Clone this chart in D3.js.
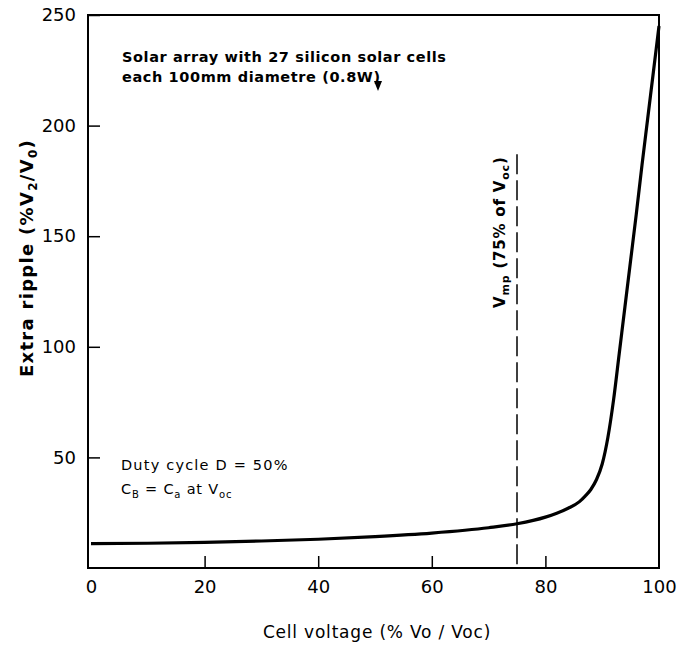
<!DOCTYPE html>
<html lang="en">
<head>
	<meta charset="utf-8">
	<title>Extra ripple vs cell voltage</title>
	<script src="https://cdn.jsdelivr.net/npm/d3@7/dist/d3.min.js"></script>
	<style>
		body { margin: 0; background: #fff; }
		svg { font-family: "DejaVu Sans", sans-serif; }
	</style>
</head>
<body>
<script>
	// Data
	var voltage = [0, 10, 20, 30, 40, 50, 60, 70, 75, 80, 82, 84, 86, 87, 88, 89, 90, 91, 92, 93, 94, 95, 96, 97, 98, 99, 100];
	var ripple  = [11, 11.2, 11.6, 12.2, 13, 14.2, 15.8, 18.2, 20, 23, 24.8, 27, 30, 32.5, 35.5, 40, 47, 59, 76, 97, 118, 139, 160, 182, 203, 224, 245];
	var xTicks = [0, 20, 40, 60, 80, 100];
	var yTicks = [50, 100, 150, 200, 250];
	var vmp = 75;

	// Margins and size
	var margin = {top: 15, right: 33, bottom: 79, left: 91};
	var outer_width = 692;
	var outer_height = 647;
	var width = outer_width - margin.left - margin.right;
	var height = outer_height - margin.top - margin.bottom;

	var svg = d3.select("body")
				.append("svg")
				.attr("width", outer_width)
				.attr("height", outer_height);

	var g = svg.append("g")
			   .attr("transform", "translate(" + margin.left + "," + margin.top + ")");

	var xScale = d3.scaleLinear().domain([0, 100]).range([0, width]);
	var yScale = d3.scaleLinear().domain([0, 250]).range([height, 0]);

	// Frame
	g.append("rect")
	 .attr("x", xScale(0) - 3)
	 .attr("y", yScale(250))
	 .attr("width", xScale(100) - xScale(0) + 3)
	 .attr("height", yScale(0) - yScale(250))
	 .attr("fill", "none")
	 .attr("stroke", "#000")
	 .attr("stroke-width", 2);

	// X axis, ticks pointing inward
	var xAxis = d3.axisBottom(xScale)
				  .tickValues(xTicks)
				  .tickSizeInner(-12)
				  .tickSizeOuter(0)
				  .tickPadding(24);
	var gx = g.append("g")
			  .attr("transform", "translate(0," + height + ")")
			  .call(xAxis);
	gx.select(".domain").remove();
	gx.selectAll(".tick line")
	  .attr("stroke-width", 1.5)
	  .attr("display", function(d) { return (d === 0 || d === 100) ? "none" : null; });
	gx.selectAll(".tick text")
	  .attr("y", 12)
	  .attr("font-size", 18)
	  .attr("font-family", "DejaVu Sans")
	  .attr("fill", "#000");

	// Y axis, ticks pointing inward
	var yAxis = d3.axisLeft(yScale)
				  .tickValues(yTicks)
				  .tickSizeInner(-12)
				  .tickSizeOuter(0)
				  .tickPadding(12);
	var gy = g.append("g")
			  .attr("transform", "translate(-3,0)")
			  .call(yAxis);
	gy.select(".domain").remove();
	gy.selectAll(".tick line").attr("stroke-width", 1.5);
	gy.selectAll(".tick text")
	  .attr("x", -12)
	  .attr("font-size", 18)
	  .attr("font-family", "DejaVu Sans")
	  .attr("fill", "#000");

	// Vmp dashed line
	g.append("line")
	 .attr("x1", xScale(vmp)).attr("x2", xScale(vmp))
	 .attr("y1", yScale(187)).attr("y2", yScale(0))
	 .attr("stroke", "#000")
	 .attr("stroke-width", 1.5)
	 .attr("stroke-dasharray", "20,6");

	// The curve
	var data = voltage.map(function(v, i) { return {x: v, y: ripple[i]}; });
	var line = d3.line()
				 .x(function(d) { return xScale(d.x); })
				 .y(function(d) { return yScale(d.y); })
				 .curve(d3.curveMonotoneX);
	g.append("path")
	 .datum(data)
	 .attr("d", line)
	 .attr("fill", "none")
	 .attr("stroke", "#000")
	 .attr("stroke-width", 3.2);

	// Annotations
	var note = svg.append("g")
				  .attr("font-size", 14.5)
				  .attr("font-weight", "bold")
				  .attr("letter-spacing", 0.6)
				  .attr("fill", "#000");
	note.append("text").attr("x", 122).attr("y", 62).text("Solar array with 27 silicon solar cells");
	note.append("text").attr("x", 122).attr("y", 82).text("each 100mm diametre (0.8W)");
	svg.append("path").attr("d", "M374,81 L382,81 L378,91 Z").attr("fill", "#000");

	note.append("text").attr("x", 121).attr("y", 470).attr("font-weight", "normal")
		.attr("letter-spacing", 1.2).text("Duty cycle D  = 50%");
	var cb = note.append("text").attr("x", 121).attr("y", 494).attr("font-weight", "normal").attr("letter-spacing", 0.8);
	cb.append("tspan").text("C");
	cb.append("tspan").attr("font-size", 10).attr("dy", 4).text("B");
	cb.append("tspan").attr("dy", -4).text(" = C");
	cb.append("tspan").attr("font-size", 10).attr("dy", 4).text("a");
	cb.append("tspan").attr("dy", -4).text(" at V");
	cb.append("tspan").attr("font-size", 10).attr("dy", 4).text("oc");

	// Vmp label (rotated)
	var vl = svg.append("text")
				.attr("transform", "translate(" + (margin.left + xScale(vmp) - 12) + ",308) rotate(-90)")
				.attr("font-size", 15)
				.attr("font-weight", "bold")
				.attr("letter-spacing", 0.8);
	vl.append("tspan").text("V");
	vl.append("tspan").attr("font-size", 11).attr("dy", 4).text("mp");
	vl.append("tspan").attr("dy", -4).text(" (75% of V");
	vl.append("tspan").attr("font-size", 11).attr("dy", 4).text("oc");
	vl.append("tspan").attr("dy", -4).text(")");

	// Axis titles
	svg.append("text")
	   .attr("x", 377).attr("y", 638)
	   .attr("text-anchor", "middle")
	   .attr("font-size", 17)
	   .attr("letter-spacing", 0.8)
	   .text("Cell voltage (% Vo / Voc)");

	var yt = svg.append("text")
				.attr("transform", "translate(33,258) rotate(-90)")
				.attr("text-anchor", "middle")
				.attr("font-size", 18)
				.attr("font-weight", "bold")
				.attr("letter-spacing", 1.3);
	yt.append("tspan").text("Extra ripple (%V");
	yt.append("tspan").attr("font-size", 12).attr("dy", 4).text("2");
	yt.append("tspan").attr("dy", -4).text("/V");
	yt.append("tspan").attr("font-size", 12).attr("dy", 4).text("0");
	yt.append("tspan").attr("dy", -4).text(")");
</script>
</body>
</html>
